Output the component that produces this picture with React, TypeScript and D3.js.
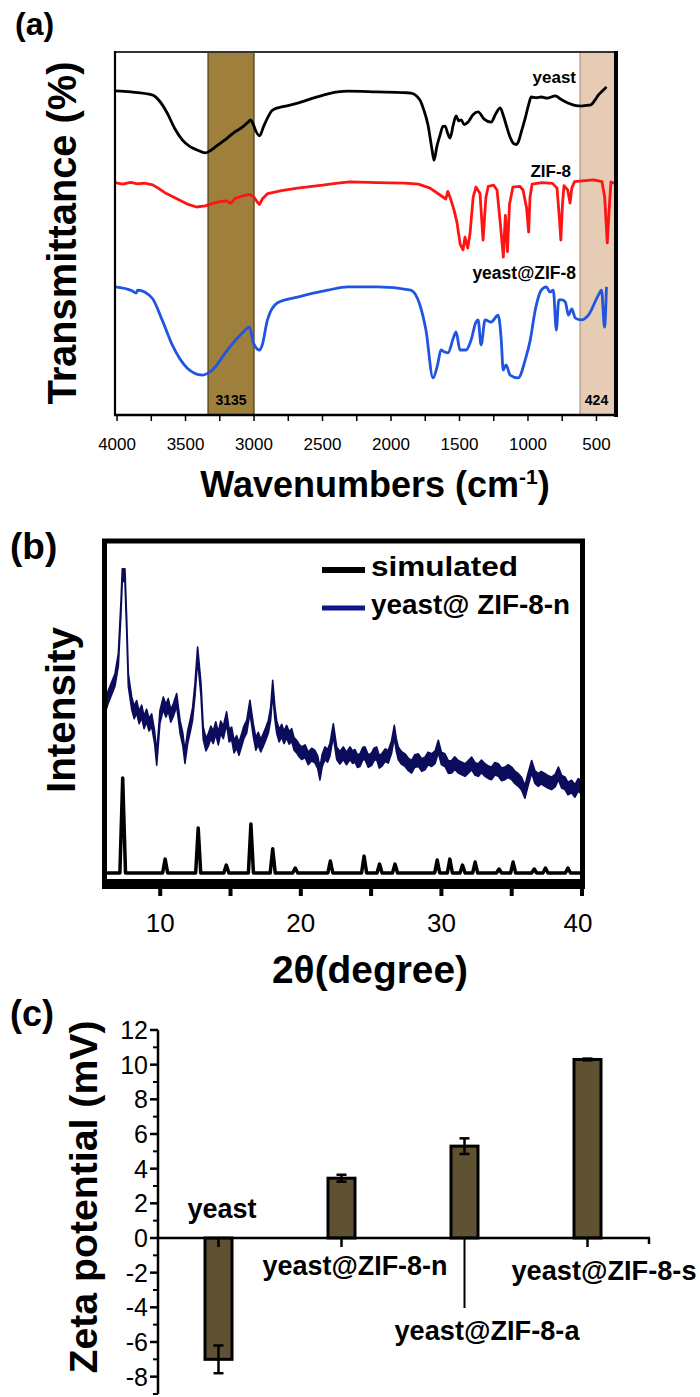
import React from 'react';
import * as d3 from 'd3';

const FONT = "'Liberation Sans', Arial, Helvetica, sans-serif";

// ---------- Panel (a): FTIR ----------
const ftirTicks = [4000, 3500, 3000, 2500, 2000, 1500, 1000, 500];
const ftirBands = [
  { from: 3336, to: 3000, label: '3135' },
  { from: 620, to: 350, label: '424' },
];
const yeastSpectrum: [number, number][] = [
  [4015, 89.3], [3900, 89.0], [3744, 88.2], [3690, 86.5], [3634, 83.2], [3580, 79.0], [3524, 75.8],
  [3470, 74.0], [3414, 73.0], [3356, 72.2], [3320, 72.8], [3270, 74.2], [3195, 76.3], [3140, 78.0],
  [3085, 79.3], [3040, 80.8], [3026, 81.3], [3005, 80.0], [2990, 78.5], [2960, 76.9], [2930, 79.5],
  [2902, 81.8], [2865, 84.0], [2780, 85.0], [2682, 85.9], [2550, 87.5], [2389, 89.0], [2316, 89.2],
  [2100, 89.0], [1900, 88.8], [1855, 88.7], [1789, 86.8], [1760, 84.0], [1730, 79.9], [1700, 73.0],
  [1686, 70.2], [1665, 74.0], [1642, 77.1], [1620, 79.5], [1606, 79.6], [1585, 77.5], [1569, 76.3],
  [1545, 80.0], [1525, 82.4], [1505, 81.0], [1488, 81.3], [1465, 80.0], [1437, 80.7], [1400, 82.8],
  [1364, 83.5], [1320, 81.5], [1269, 80.7], [1235, 83.0], [1203, 84.6], [1180, 82.5], [1159, 79.9],
  [1130, 76.5], [1108, 74.9], [1085, 74.5], [1071, 75.2], [1045, 78.5], [1020, 81.8], [995, 85.5],
  [976, 87.6], [940, 87.4], [903, 87.6], [860, 87.3], [800, 87.9], [760, 87.0], [705, 85.9],
  [650, 85.2], [610, 85.1], [570, 85.3], [544, 85.4], [510, 86.8], [485, 88.2], [455, 89.3], [427, 90.4],
];
const zif8Spectrum: [number, number][] = [
  [4015, 64.0], [3960, 63.6], [3900, 64.1], [3850, 63.7], [3800, 63.9], [3740, 63.4], [3700, 62.5],
  [3640, 61.0], [3560, 59.5], [3480, 58.0], [3420, 57.3], [3356, 57.6], [3300, 58.3], [3250, 58.8],
  [3200, 59.0], [3170, 58.3], [3140, 59.6], [3080, 60.4], [3030, 60.8], [3000, 60.0], [2975, 58.6],
  [2960, 58.0], [2940, 59.5], [2900, 61.0], [2800, 61.8], [2682, 62.5], [2500, 63.3], [2389, 63.9],
  [2300, 64.2], [2100, 64.0], [1900, 63.9], [1800, 63.6], [1715, 62.5], [1642, 60.6], [1600, 59.5],
  [1585, 61.6], [1565, 59.5], [1540, 56.5], [1518, 53.0], [1495, 47.0], [1474, 45.5], [1460, 49.0],
  [1440, 46.0], [1423, 50.0], [1400, 60.0], [1380, 62.8], [1350, 61.0], [1328, 48.2], [1307, 60.0],
  [1290, 63.0], [1250, 63.3], [1226, 62.0], [1200, 52.0], [1180, 43.5], [1165, 55.0], [1150, 45.0],
  [1135, 58.0], [1110, 62.8], [1060, 63.0], [1036, 62.0], [1010, 57.0], [995, 50.4], [985, 60.0],
  [970, 63.6], [900, 64.0], [820, 63.8], [788, 62.5], [770, 54.0], [760, 48.2], [748, 58.0],
  [737, 63.2], [710, 62.0], [693, 58.4], [680, 62.5], [660, 64.3], [600, 64.5], [520, 64.8],
  [460, 64.3], [440, 60.0], [421, 47.4], [405, 58.0], [394, 64.2], [365, 63.8],
];
const yeastZif8Spectrum: [number, number][] = [
  [4015, 35.3], [3890, 34.2], [3860, 33.6], [3850, 34.4], [3744, 32.2], [3671, 26.2], [3597, 19.3],
  [3487, 12.9], [3378, 11.0], [3304, 12.4], [3195, 17.9], [3085, 22.6], [3033, 24.2], [3004, 19.8],
  [2960, 17.9], [2940, 19.3], [2902, 26.2], [2828, 30.9], [2682, 32.5], [2462, 34.4], [2316, 35.3],
  [2100, 35.3], [1855, 34.4], [1789, 30.3], [1745, 23.4], [1693, 10.2], [1660, 13.8], [1635, 17.9],
  [1610, 17.4], [1584, 17.1], [1545, 21.2], [1525, 22.9], [1496, 17.9], [1452, 17.9], [1415, 20.7],
  [1380, 25.6], [1364, 26.2], [1342, 19.3], [1313, 26.2], [1269, 25.6], [1218, 27.5], [1195, 20.7],
  [1181, 12.4], [1160, 13.8], [1130, 11.0], [1071, 10.2], [1020, 15.2], [983, 20.7], [947, 28.9],
  [903, 34.4], [866, 35.3], [840, 33.9], [815, 34.4], [793, 23.4], [775, 31.7], [750, 31.7],
  [727, 31.1], [705, 27.5], [680, 29.2], [654, 26.7], [610, 26.2], [559, 27.5], [485, 33.1],
  [463, 34.4], [441, 24.2], [427, 35.3],
];

// ---------- Panel (b): XRD ----------
const xrdTicks = [10, 15, 20, 25, 30, 35, 40];
const xrdTickLabels = [10, 20, 30, 40];
const yeastZif8nXrd: [number, number][] = [
  [6.0, 49.2], [6.31, 53.3], [6.78, 58.3], [7.02, 64.4], [7.21, 80.5], [7.30, 90.0], [7.49, 90.0],
  [7.61, 75.4], [7.73, 58.3], [7.97, 51.3], [8.15, 48.5], [8.32, 50.2], [8.50, 47.0], [8.68, 48.8],
  [8.85, 45.5], [9.03, 47.6], [9.20, 44.8], [9.39, 46.2], [9.60, 41.0], [9.75, 34.5], [9.85, 40.0],
  [9.98, 47.2], [10.22, 51.3], [10.40, 49.0], [10.57, 50.8], [10.75, 47.5], [10.93, 49.2], [11.17, 52.3],
  [11.41, 44.2], [11.60, 40.5], [11.76, 35.0], [11.95, 41.0], [12.12, 44.2], [12.30, 48.0], [12.47, 55.3],
  [12.66, 66.4], [12.90, 55.3], [13.06, 42.2], [13.25, 38.8], [13.42, 40.2], [13.60, 42.5], [13.77, 41.0],
  [13.95, 43.8], [14.13, 40.6], [14.30, 44.0], [14.49, 42.5], [14.72, 46.8], [14.90, 41.5], [15.08, 42.2],
  [15.25, 38.2], [15.44, 39.6], [15.60, 37.5], [15.79, 40.2], [15.95, 42.5], [16.15, 44.2], [16.38, 50.3],
  [16.62, 43.2], [16.80, 39.0], [16.97, 40.6], [17.15, 38.5], [17.33, 40.2], [17.50, 42.0], [17.69, 44.2],
  [17.85, 48.0], [18.0, 56.3], [18.15, 48.5], [18.28, 44.2], [18.46, 41.5], [18.64, 43.0], [18.80, 41.0],
  [18.99, 42.7], [19.17, 40.8], [19.35, 41.7], [19.52, 39.0], [19.70, 38.2], [19.88, 37.0], [20.06, 36.2],
  [20.30, 36.8], [20.53, 34.6], [20.77, 35.8], [21.01, 35.1], [21.20, 33.5], [21.36, 30.0], [21.52, 34.0],
  [21.72, 36.2], [21.90, 35.4], [22.07, 37.2], [22.31, 43.2], [22.55, 36.2], [22.78, 34.8], [23.02, 36.2],
  [23.25, 34.6], [23.50, 36.2], [23.68, 35.0], [23.85, 35.4], [24.03, 33.8], [24.21, 34.1], [24.40, 36.0],
  [24.56, 36.2], [24.80, 33.8], [25.04, 34.4], [25.20, 35.8], [25.39, 36.2], [25.58, 33.6], [25.75, 34.1],
  [26.0, 35.6], [26.22, 35.1], [26.45, 38.0], [26.65, 42.7], [26.80, 38.5], [26.93, 36.2], [27.15, 34.8],
  [27.41, 34.1], [27.65, 32.8], [27.88, 32.1], [28.10, 33.8], [28.36, 34.1], [28.60, 32.6], [28.83, 33.1],
  [29.05, 34.6], [29.31, 34.1], [29.55, 35.0], [29.78, 38.2], [30.0, 34.6], [30.25, 34.1], [30.50, 32.0],
  [30.73, 32.1], [30.95, 33.2], [31.20, 32.1], [31.45, 31.6], [31.68, 31.1], [31.90, 32.0], [32.15, 33.1],
  [32.40, 31.4], [32.62, 31.1], [32.85, 32.2], [33.10, 31.1], [33.35, 30.4], [33.57, 30.1], [33.80, 31.5],
  [34.05, 31.1], [34.28, 29.8], [34.52, 30.1], [34.75, 30.8], [35.0, 30.1], [35.25, 28.8], [35.47, 28.1],
  [35.70, 27.0], [35.94, 24.5], [36.15, 28.0], [36.42, 32.1], [36.65, 29.0], [36.89, 28.1], [37.10, 28.8],
  [37.37, 28.1], [37.60, 27.5], [37.84, 27.1], [38.10, 28.0], [38.32, 30.1], [38.55, 27.6], [38.79, 27.1],
  [39.0, 25.5], [39.26, 26.1], [39.50, 24.8], [39.73, 26.6], [40.0, 25.6],
];
const simPeakPositions = [7.33, 10.35, 12.7, 14.7, 16.45, 18.0, 19.6, 22.1, 24.5, 25.6, 26.7, 29.7, 30.6, 31.5, 32.4, 34.1, 35.1, 36.6, 37.4, 39.0];
const simPeakHeights = [28.7, 4.2, 13.6, 2.4, 14.8, 7.3, 1.5, 3.6, 5.1, 2.7, 2.7, 3.9, 4.2, 2.4, 3.3, 1.2, 3.3, 1.2, 1.5, 1.5];
const xrdLegend = ['simulated', 'yeast@ ZIF-8-n'];

// ---------- Panel (c): Zeta potential ----------
const zetaCategories = ['yeast', 'yeast@ZIF-8-n', 'yeast@ZIF-8-a', 'yeast@ZIF-8-s'];
const zetaValues = [-7.0, 3.45, 5.3, 10.3];
const zetaErrors = [0.8, 0.2, 0.45, 0.05];
const zetaTicks = [-8, -6, -4, -2, 0, 2, 4, 6, 8, 10, 12];

// layout constants (not data)
const zetaLabelLayout = [
  { dx: 3.5, y: 1218 },
  { dx: 13.5, y: 1275 },
  { dx: 22.5, y: 1340 },
  { dx: 16.5, y: 1280 },
];

export default function App() {
  // Panel a scales
  const xA = d3.scaleLinear().domain([4015, 350]).range([115, 617]);
  const yA = d3.scaleLinear().domain([0, 100]).range([415, 52]);
  const lineA = d3.line<[number, number]>().x((d) => xA(d[0])).y((d) => yA(d[1]));
  const smoothA = d3
    .line<[number, number]>()
    .x((d) => xA(d[0]))
    .y((d) => yA(d[1]))
    .curve(d3.curveMonotoneX);
  const aMinorTicks = d3.range(4000, 499, -250);

  // Panel b scales
  const xB = d3.scaleLinear().domain([6, 40]).range([104, 582]);
  const yB = d3.scaleLinear().domain([0, 100]).range([873, 542]);
  const bandHalf = 1.9;
  const areaB = d3
    .area<[number, number]>()
    .x((d) => xB(d[0]))
    .y0((d) => yB(d[1] - bandHalf))
    .y1((d) => yB(d[1] + bandHalf));
  const simPoints: [number, number][] = [[6, 0]];
  simPeakPositions.forEach((p, i) => {
    const hw = i === 0 ? 0.2 : 0.18;
    simPoints.push([p - hw, 0], [p, simPeakHeights[i]], [p + hw, 0]);
  });
  simPoints.push([40, 0]);
  const lineB = d3.line<[number, number]>().x((d) => xB(d[0])).y((d) => yB(d[1]));

  // Panel c scales
  const xC = d3.scalePoint<string>().domain(zetaCategories).range([157, 649]).padding(0.5);
  const yC = d3.scaleLinear().domain([-9, 12]).range([1394, 1030]);
  const barW = 27;
  const cMinor = d3.range(-9, 12, 2);

  return (
    <svg
      width={700}
      height={1397}
      style={{ position: 'absolute', left: 0, top: 0, background: '#fff' }}
      fontFamily={FONT}
    >
      <rect width={700} height={1397} fill="#fff" />

      {/* ================= Panel (a) ================= */}
      <text x={15} y={35} fontSize={32} fontWeight="bold">(a)</text>
      <rect
        x={xA(ftirBands[0].from)}
        y={yA(100)}
        width={xA(ftirBands[0].to) - xA(ftirBands[0].from)}
        height={yA(0) - yA(100)}
        fill="#9e7f3c"
        stroke="#4a3c18"
        strokeWidth={1.2}
      />
      <rect
        x={xA(ftirBands[1].from)}
        y={yA(100)}
        width={xA(ftirBands[1].to) - xA(ftirBands[1].from)}
        height={yA(0) - yA(100)}
        fill="#e6cbb5"
      />
      <line
        x1={xA(ftirBands[1].from)}
        x2={xA(ftirBands[1].from)}
        y1={yA(100)}
        y2={yA(0)}
        stroke="#a08870"
        strokeWidth={1}
      />
      <path d={smoothA(yeastSpectrum) || ''} fill="none" stroke="#000" strokeWidth={2.8} strokeLinejoin="round" />
      <path d={lineA(zif8Spectrum) || ''} fill="none" stroke="#ff1414" strokeWidth={2.8} strokeLinejoin="round" />
      <path d={smoothA(yeastZif8Spectrum) || ''} fill="none" stroke="#1f55e0" strokeWidth={2.8} strokeLinejoin="round" />
      <line x1={115} x2={617} y1={52} y2={52} stroke="#333" strokeWidth={2} />
      <line x1={115} x2={115} y1={51} y2={416} stroke="#000" strokeWidth={2.2} />
      <line x1={114} x2={618} y1={415} y2={415} stroke="#000" strokeWidth={2.5} />
      <line x1={616} x2={616} y1={51} y2={417} stroke="#000" strokeWidth={4} />
      {aMinorTicks.map((t) => (
        <line key={t} x1={xA(t)} x2={xA(t)} y1={416} y2={421} stroke="#000" strokeWidth={1.5} />
      ))}
      {ftirTicks.map((t) => (
        <text key={t} x={xA(t)} y={450} fontSize={17} textAnchor="middle">{t}</text>
      ))}
      {ftirBands.map((b, i) => (
        <text
          key={b.label}
          x={(xA(b.from) + xA(b.to)) / 2 - (i === 1 ? 2 : 0)}
          y={405}
          fontSize={14}
          fontWeight="bold"
          textAnchor="middle"
        >
          {b.label}
        </text>
      ))}
      <text x={576} y={83} fontSize={17} fontWeight="bold" textAnchor="end">yeast</text>
      <text x={571} y={177} fontSize={17} fontWeight="bold" textAnchor="end">ZIF-8</text>
      <text x={576} y={279} fontSize={17.5} fontWeight="bold" textAnchor="end">yeast@ZIF-8</text>
      <text x={375} y={497} fontSize={36} fontWeight="bold" textAnchor="middle">
        Wavenumbers (cm<tspan dy={-13} fontSize={21}>-1</tspan><tspan dy={13}>)</tspan>
      </text>
      <text
        transform="translate(76,233) rotate(-90)"
        fontSize={40}
        fontWeight="bold"
        textAnchor="middle"
        textLength={343}
        lengthAdjust="spacingAndGlyphs"
      >
        Transmittance (%)
      </text>

      {/* ================= Panel (b) ================= */}
      <text x={10} y={559} fontSize={37} fontWeight="bold">(b)</text>
      <path d={areaB(yeastZif8nXrd) || ''} fill="#0c0c5c" stroke="#0c0c5c" strokeWidth={1.6} strokeLinejoin="round" />
      <path d={lineB(simPoints) || ''} fill="none" stroke="#000" strokeWidth={3.5} strokeLinejoin="round" />
      <rect x={104.5} y={541} width={478} height={343} fill="none" stroke="#000" strokeWidth={5} />
      <line x1={102} x2={585} y1={884} y2={884} stroke="#000" strokeWidth={10} />
      {xrdTicks.map((t) => (
        <line key={t} x1={xB(t)} x2={xB(t)} y1={888} y2={896} stroke="#000" strokeWidth={4} />
      ))}
      {xrdTickLabels.map((t) => (
        <text key={t} x={xB(t) - (t === 40 ? 4 : 0)} y={932} fontSize={26} textAnchor="middle">{t}</text>
      ))}
      <line x1={322} x2={365} y1={570} y2={570} stroke="#000" strokeWidth={6} />
      <text x={371} y={576} fontSize={28} fontWeight="bold" textLength={147} lengthAdjust="spacingAndGlyphs">
        {xrdLegend[0]}
      </text>
      <line x1={322} x2={365} y1={608} y2={608} stroke="#13138a" strokeWidth={5} />
      <text x={371} y={614} fontSize={27} fontWeight="bold" textLength={199} lengthAdjust="spacingAndGlyphs">
        {xrdLegend[1]}
      </text>
      <text x={370} y={983} fontSize={38} fontWeight="bold" textAnchor="middle" textLength={196} lengthAdjust="spacingAndGlyphs">
        2θ(degree)
      </text>
      <text
        transform="translate(75,710) rotate(-90)"
        fontSize={40}
        fontWeight="bold"
        textAnchor="middle"
        textLength={166}
        lengthAdjust="spacingAndGlyphs"
      >
        Intensity
      </text>

      {/* ================= Panel (c) ================= */}
      <text x={10} y={1026} fontSize={36} fontWeight="bold">(c)</text>
      {zetaCategories.map((c, i) => {
        const v = zetaValues[i];
        const y0 = yC(Math.max(0, v));
        const h = Math.abs(yC(v) - yC(0));
        return (
          <rect
            key={c}
            x={(xC(c) as number) - barW / 2}
            y={y0}
            width={barW}
            height={h}
            fill="#5e5232"
            stroke="#000"
            strokeWidth={3}
          />
        );
      })}
      <line x1={158} x2={158} y1={yC(12)} y2={yC(-9)} stroke="#000" strokeWidth={2.5} />
      {zetaTicks.map((t) => (
        <g key={t}>
          <line x1={150} x2={158} y1={yC(t)} y2={yC(t)} stroke="#000" strokeWidth={2.5} />
          <text x={148} y={yC(t)} dy="0.36em" fontSize={25} textAnchor="end">{t}</text>
        </g>
      ))}
      {cMinor.map((t) => (
        <line key={t} x1={153} x2={158} y1={yC(t)} y2={yC(t)} stroke="#000" strokeWidth={2} />
      ))}
      <line x1={158} x2={650} y1={yC(0)} y2={yC(0)} stroke="#000" strokeWidth={2.5} />
      <line x1={649} x2={649} y1={yC(0)} y2={yC(0) + 6} stroke="#000" strokeWidth={2.5} />
      {zetaCategories.map((c, i) => (
        <line
          key={c}
          x1={xC(c) as number}
          x2={xC(c) as number}
          y1={yC(0)}
          y2={i === 2 ? 1308 : yC(0) + 9}
          stroke="#000"
          strokeWidth={i === 2 ? 2 : 2.5}
        />
      ))}
      {zetaCategories.map((c, i) => {
        const cx = xC(c) as number;
        const hi = yC(zetaValues[i] + zetaErrors[i]);
        const lo = yC(zetaValues[i] - zetaErrors[i]);
        return (
          <g key={c} stroke="#000" strokeWidth={2.5}>
            <line x1={cx} x2={cx} y1={hi} y2={lo} />
            <line x1={cx - 5} x2={cx + 5} y1={hi} y2={hi} />
            <line x1={cx - 5} x2={cx + 5} y1={lo} y2={lo} />
          </g>
        );
      })}
      {zetaCategories.map((c, i) => (
        <text
          key={c}
          x={(xC(c) as number) + zetaLabelLayout[i].dx}
          y={zetaLabelLayout[i].y}
          fontSize={27}
          fontWeight="bold"
          textAnchor="middle"
          textLength={i === 0 ? 69 : 185}
          lengthAdjust="spacingAndGlyphs"
        >
          {c}
        </text>
      ))}
      <text
        transform="translate(97,1197) rotate(-90)"
        fontSize={38}
        fontWeight="bold"
        textAnchor="middle"
        textLength={353}
        lengthAdjust="spacingAndGlyphs"
      >
        Zeta potential (mV)
      </text>
    </svg>
  );
}
